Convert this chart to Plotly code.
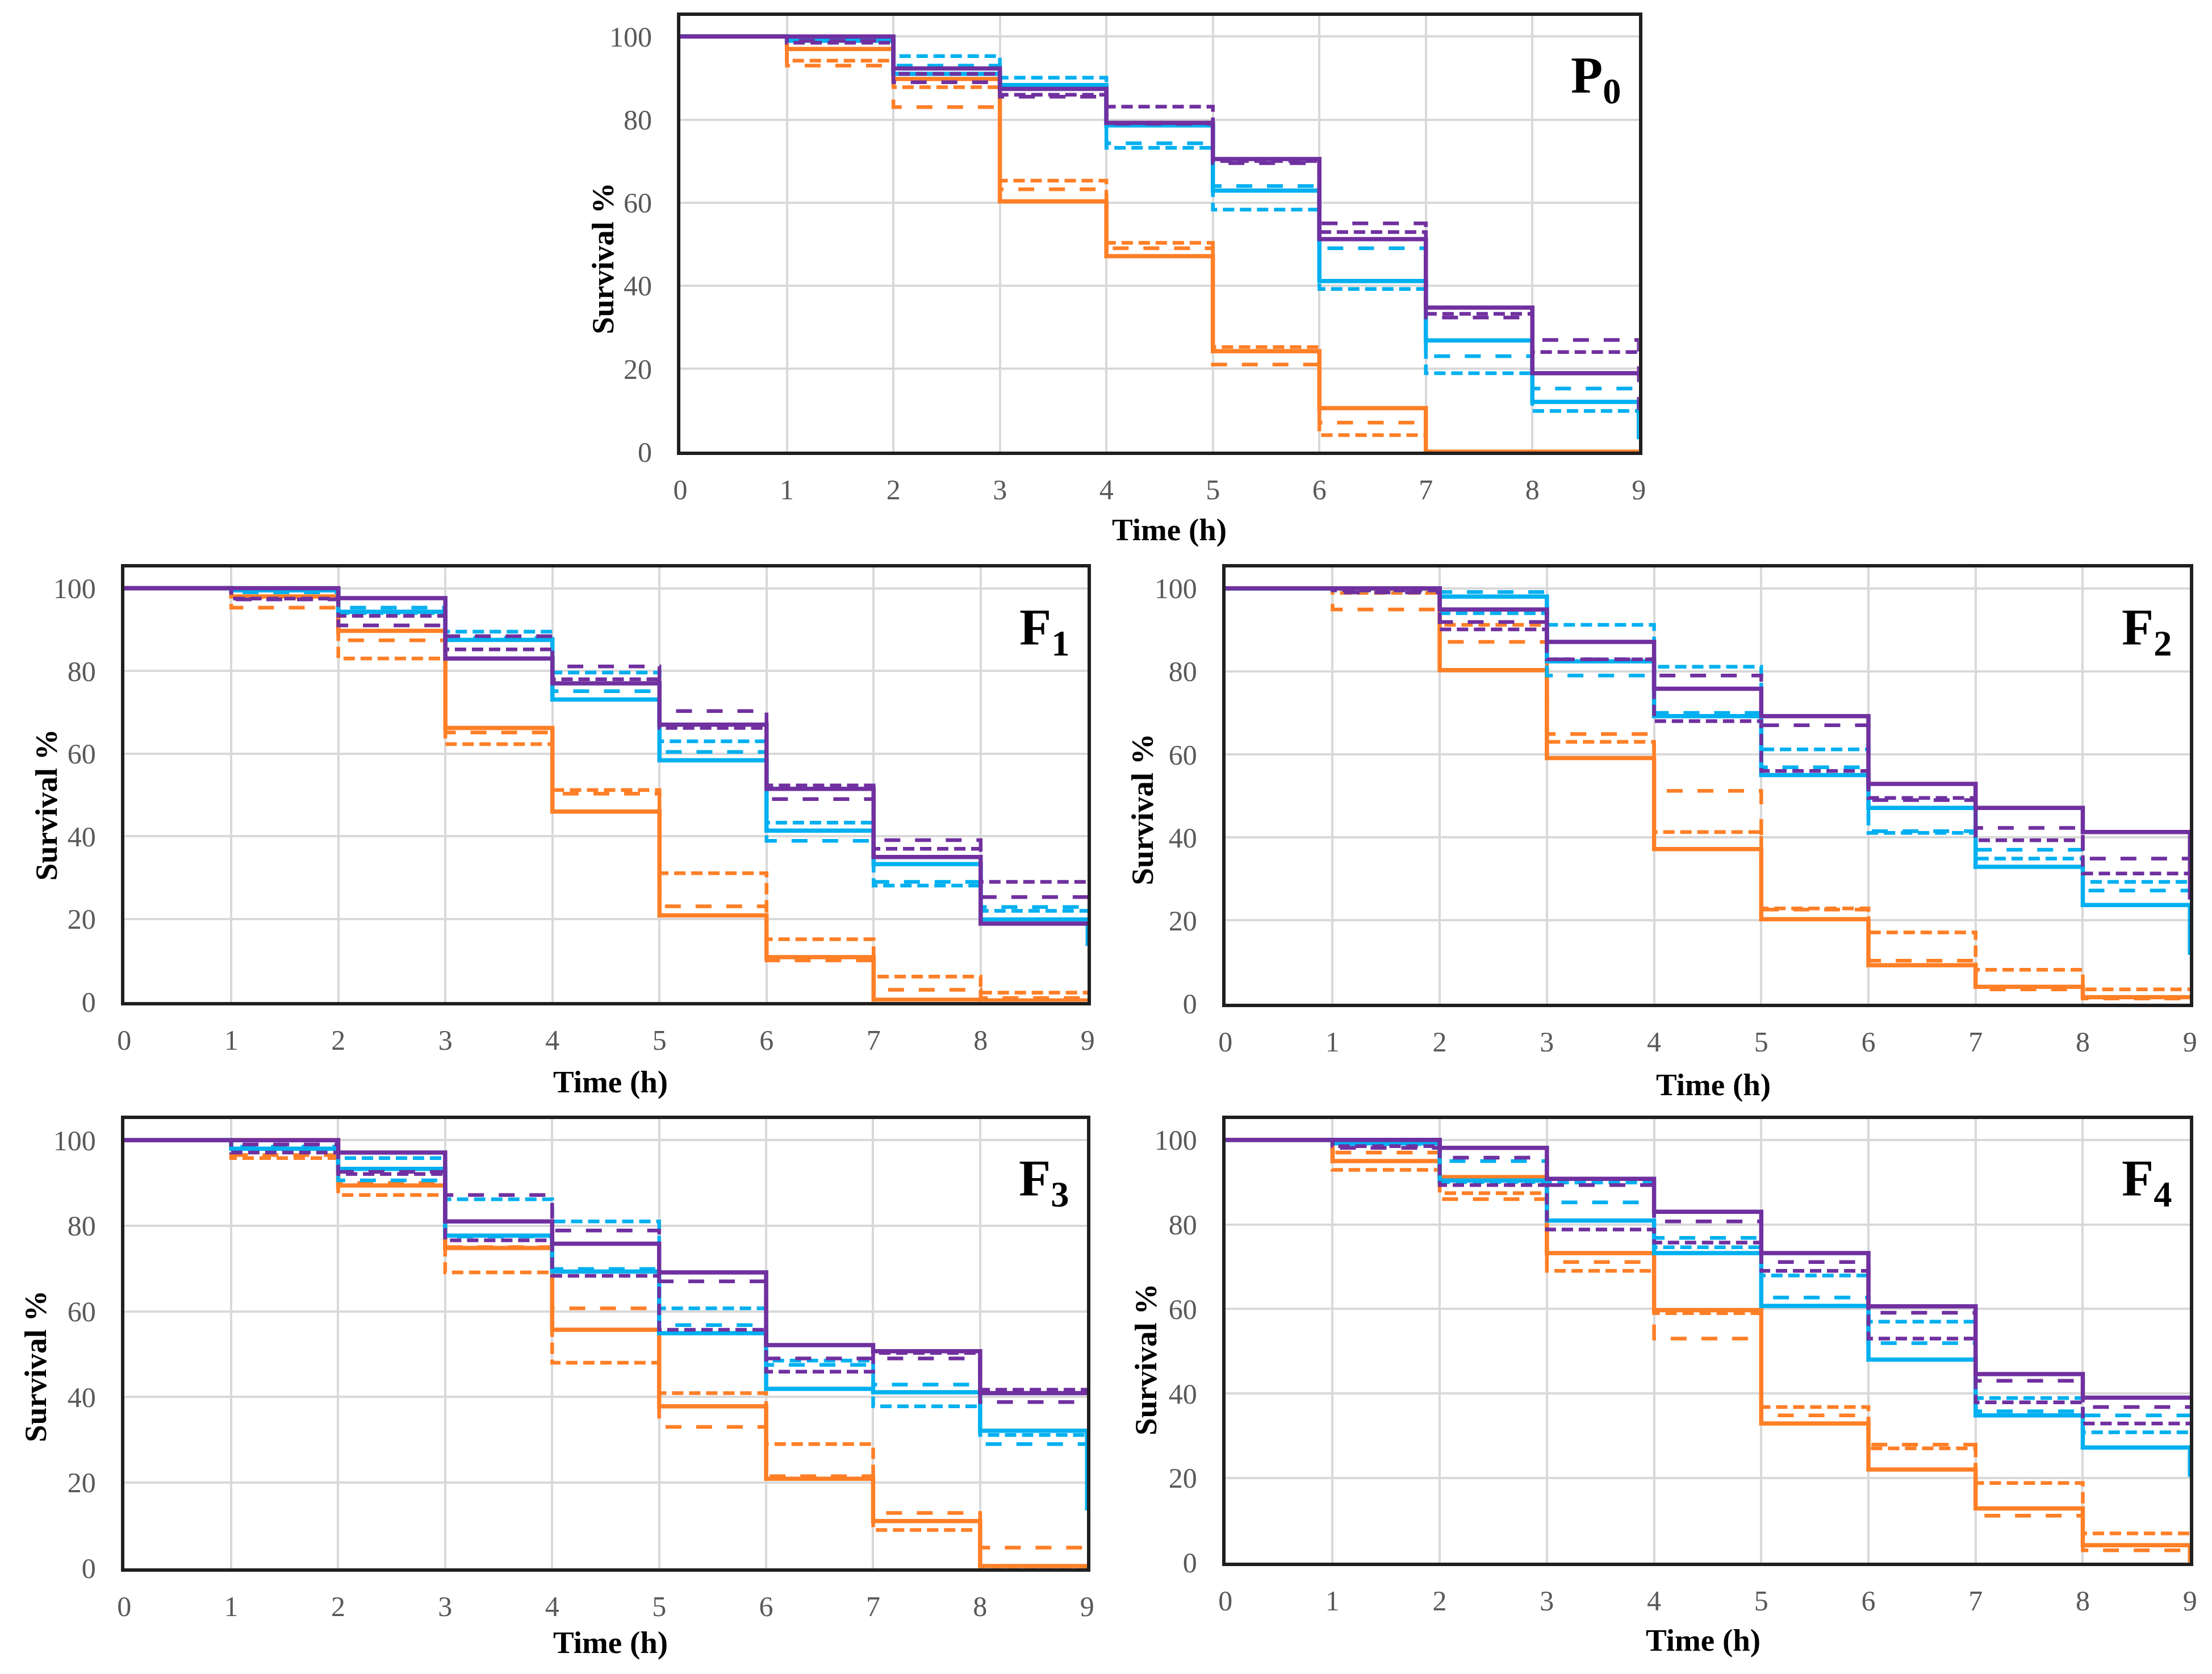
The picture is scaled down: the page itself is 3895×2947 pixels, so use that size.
import plotly.graph_objects as go

# ---------------- data (survival %, value on each interval [k, k+1], last = value at t=9) ----------------
time_h = [0, 1, 2, 3, 4, 5, 6, 7, 8, 9]
x_ticks = [0, 1, 2, 3, 4, 5, 6, 7, 8, 9]
y_ticks = [0, 20, 40, 60, 80, 100]

# P0
p0_orange_solid = [100, 97, 89.8, 60.3, 47.1, 24.2, 10.5, 0, 0, 0]
p0_orange_long = [100, 93, 83, 63.2, 49, 21, 7, 0, 0, 0]
p0_orange_short = [100, 94.2, 87.8, 65.3, 50.3, 25.2, 4, 0, 0, 0]
p0_cyan_solid = [100, 99, 91, 88.3, 78.6, 62.9, 41.1, 26.8, 12, 3]
p0_cyan_long = [100, 99.5, 93, 88, 74.3, 64, 49, 23, 15.2, 15.2]
p0_cyan_short = [100, 100, 95.3, 90.1, 73.2, 58.3, 39.2, 18.9, 9.8, 9.8]
p0_purple_solid = [100, 100, 92.3, 87.4, 79.2, 70.5, 51.2, 34.7, 18.9, 18.9]
p0_purple_long = [100, 99, 89, 85.5, 79, 69.5, 55, 32.3, 26.9, 10]
p0_purple_short = [100, 98.5, 91, 86, 83.1, 70, 52.9, 33.2, 24, 24]

# F1
f1_orange_solid = [100, 98, 89.7, 66.2, 46, 20.9, 10.8, 0.5, 0.3, 0.3]
f1_orange_long = [100, 95.3, 87.4, 65.1, 50.3, 23.1, 10, 2.9, 0.9, 0.9]
f1_orange_short = [100, 97.8, 83, 62.3, 51.2, 31.1, 15.1, 6.1, 2.2, 2.2]
f1_cyan_solid = [100, 99.5, 94.3, 87.5, 73.1, 58.4, 41.4, 33.3, 19.9, 13.5]
f1_cyan_long = [100, 99, 95.3, 88, 75.1, 60.4, 38.9, 29, 22.9, 22.9]
f1_cyan_short = [100, 99.7, 94, 89.5, 79.6, 63, 43.3, 28.1, 22, 22]
f1_purple_solid = [100, 100, 97.6, 83, 77, 67, 51.5, 35, 18.9, 18.9]
f1_purple_long = [100, 97.3, 91, 88.4, 81.1, 70.3, 49, 39.1, 25.3, 25.3]
f1_purple_short = [100, 97.5, 93.3, 85.2, 78, 66.2, 52.3, 37, 29, 29]

# F2
f2_orange_solid = [100, 100, 80.3, 59.1, 37.2, 20.3, 9.2, 4, 1.5, 1.5]
f2_orange_long = [100, 94.9, 87.1, 64.9, 51.2, 22.6, 10.3, 3.4, 1.2, 1.2]
f2_orange_short = [100, 98.9, 91.2, 63, 41.3, 22.9, 17.1, 8.1, 3.4, 3.4]
f2_cyan_solid = [100, 100, 98, 82.4, 69.2, 55, 47.1, 32.9, 23.7, 11.7]
f2_cyan_long = [100, 100, 99.1, 79, 70, 56.9, 41.5, 37, 27.2, 27.2]
f2_cyan_short = [100, 99.5, 94, 91.2, 81.1, 61.2, 41.1, 34.9, 29.3, 29.3]
f2_purple_solid = [100, 100, 94.9, 87.1, 75.8, 69.2, 52.9, 47.1, 41.3, 25]
f2_purple_long = [100, 99, 91.9, 82.9, 79, 67, 49, 42.3, 34.9, 34.9]
f2_purple_short = [100, 99.5, 90.1, 82.9, 68, 56, 49.5, 39.3, 31.3, 31.3]

# F3
f3_orange_solid = [100, 100, 89.4, 74.8, 55.7, 37.8, 20.9, 11, 0.5, 0.5]
f3_orange_long = [100, 96.5, 90, 75, 60.7, 33, 21.5, 12.9, 4.8, 4.8]
f3_orange_short = [100, 95.8, 87.2, 69.1, 48, 40.9, 29, 8.9, 0, 0]
f3_cyan_solid = [100, 98, 93.3, 77.7, 69.3, 54.9, 41.9, 41.1, 32.1, 13.5]
f3_cyan_long = [100, 98.5, 90.6, 77.5, 69.9, 56.8, 47.5, 42.9, 29, 29]
f3_cyan_short = [100, 98, 95.8, 86.2, 81, 60.7, 48.5, 37.8, 31.1, 31.1]
f3_purple_solid = [100, 100, 97.1, 81, 75.8, 69.1, 52.1, 50.7, 40.9, 40.9]
f3_purple_long = [100, 99, 92.6, 87.2, 78.9, 67, 49, 49, 38.8, 38.8]
f3_purple_short = [100, 97.1, 92.1, 76.6, 68.3, 55.7, 45.9, 50.3, 41.7, 41.7]

# F4
f4_orange_solid = [100, 95, 91.2, 73.2, 59.7, 32.9, 22, 12.8, 4.1, 0]
f4_orange_long = [100, 97, 86, 71.1, 53, 34.8, 27.9, 11.1, 2.9, 2.9]
f4_orange_short = [100, 92.9, 87.4, 69, 59, 36.8, 27, 18.8, 6.9, 6.9]
f4_cyan_solid = [100, 99.2, 90.4, 80.9, 73.2, 60.7, 48, 34.8, 27.2, 20.3]
f4_cyan_long = [100, 99, 95, 85.2, 76.8, 62.7, 51.9, 35.8, 34.8, 34.8]
f4_cyan_short = [100, 100, 90, 89.9, 74.6, 67.9, 57, 38.9, 30.8, 30.8]
f4_purple_solid = [100, 100, 98.1, 90.8, 83, 73.2, 60.6, 44.6, 39, 39]
f4_purple_long = [100, 98.1, 95.8, 89.3, 80.7, 71.1, 59.1, 43, 36.8, 36.8]
f4_purple_short = [100, 98.5, 89.3, 78.8, 75.7, 69, 53, 37.9, 32.9, 32.9]

panel_labels = ["P<sub>0</sub>", "F<sub>1</sub>", "F<sub>2</sub>", "F<sub>3</sub>", "F<sub>4</sub>"]
panel_series = [
    [p0_orange_solid, p0_orange_long, p0_orange_short, p0_cyan_solid, p0_cyan_long, p0_cyan_short,
     p0_purple_solid, p0_purple_long, p0_purple_short],
    [f1_orange_solid, f1_orange_long, f1_orange_short, f1_cyan_solid, f1_cyan_long, f1_cyan_short,
     f1_purple_solid, f1_purple_long, f1_purple_short],
    [f2_orange_solid, f2_orange_long, f2_orange_short, f2_cyan_solid, f2_cyan_long, f2_cyan_short,
     f2_purple_solid, f2_purple_long, f2_purple_short],
    [f3_orange_solid, f3_orange_long, f3_orange_short, f3_cyan_solid, f3_cyan_long, f3_cyan_short,
     f3_purple_solid, f3_purple_long, f3_purple_short],
    [f4_orange_solid, f4_orange_long, f4_orange_short, f4_cyan_solid, f4_cyan_long, f4_cyan_short,
     f4_purple_solid, f4_purple_long, f4_purple_short],
]
series_names = ["Orange solid", "Orange long dash", "Orange short dash",
                "Cyan solid", "Cyan long dash", "Cyan short dash",
                "Purple solid", "Purple long dash", "Purple short dash"]

# ---------------- styling ----------------
W, H = 3895, 2947
ORANGE, CYAN, PURPLE = "#FF7F27", "#00B0F0", "#7030A0"
series_colors = [ORANGE] * 3 + [CYAN] * 3 + [PURPLE] * 3
dash_styles = ["solid", "28px,26px", "20px,10px"] * 3
widths = [7.5, 6.5, 6.5] * 3
FONT = "Liberation Serif"

# plot boxes in pixels: x0, x1, top, bottom
boxes = [
    (1185, 2884, 20, 795),
    (199, 1907, 1001, 1773),
    (2151, 3861, 1001, 1776),
    (199, 1906, 1981, 2780),
    (2151, 3861, 1981, 2770),
]
ytitle_pos = [(1048, 452), (61, 1423), (2004, 1431), (41, 2421), (2010, 2409)]
xtitle_pos = [(2052, 934), (1061, 1915), (3016, 1920), (1061, 2912), (2998, 2908)]


def px(xp):
    return xp / W


def py(yp):
    return 1 - yp / H


fig = go.Figure()
annotations = []
layout_axes = {}

draw_order = [1, 2, 0, 4, 5, 3, 7, 8, 6]

for i, (series, label) in enumerate(zip(panel_series, panel_labels)):
    n = "" if i == 0 else str(i + 1)
    xa, ya = "x" + n, "y" + n
    for j in draw_order:
        fig.add_trace(go.Scatter(
            x=time_h, y=series[j], mode="lines", name=series_names[j],
            line=dict(color=series_colors[j], width=widths[j], dash=dash_styles[j], shape="hv"),
            xaxis=xa, yaxis=ya, showlegend=False,
        ))
    x0, x1, top, bottom = boxes[i]
    common = dict(
        showgrid=True, gridcolor="#D9D9D9", gridwidth=4,
        showline=True, mirror=True, linecolor="#1F1F1F", linewidth=6,
        zeroline=False, ticks="",
        tickfont=dict(family=FONT, size=50, color="#595959"),
    )
    layout_axes["xaxis" + n] = dict(
        common, domain=[px(x0), px(x1)], range=[0, 9], tickvals=x_ticks,
        anchor=ya, ticklabelstandoff=18,
    )
    layout_axes["yaxis" + n] = dict(
        common, domain=[py(bottom), py(top)], range=[0, 105], tickvals=y_ticks,
        anchor=xa, ticklabelstandoff=34,
    )
    annotations.append(dict(
        text="<b>" + label + "</b>", xref="paper", yref="paper",
        x=px(x1 - 30), y=py(top + 52), xanchor="right", yanchor="top",
        showarrow=False, font=dict(family=FONT, size=92, color="black"),
    ))
    tx, ty = ytitle_pos[i]
    annotations.append(dict(
        text="<b>Survival %</b>", xref="paper", yref="paper", x=px(tx), y=py(ty),
        xanchor="center", yanchor="middle", textangle=-90, showarrow=False,
        font=dict(family=FONT, size=55, color="black"),
    ))
    tx, ty = xtitle_pos[i]
    annotations.append(dict(
        text="<b>Time (h)</b>", xref="paper", yref="paper", x=px(tx), y=py(ty),
        xanchor="center", yanchor="middle", showarrow=False,
        font=dict(family=FONT, size=55, color="black"),
    ))

fig.update_layout(
    width=W, height=H, margin=dict(l=0, r=0, t=0, b=0),
    paper_bgcolor="white", plot_bgcolor="white",
    annotations=annotations, **layout_axes,
)

fig.write_html("out.html")
